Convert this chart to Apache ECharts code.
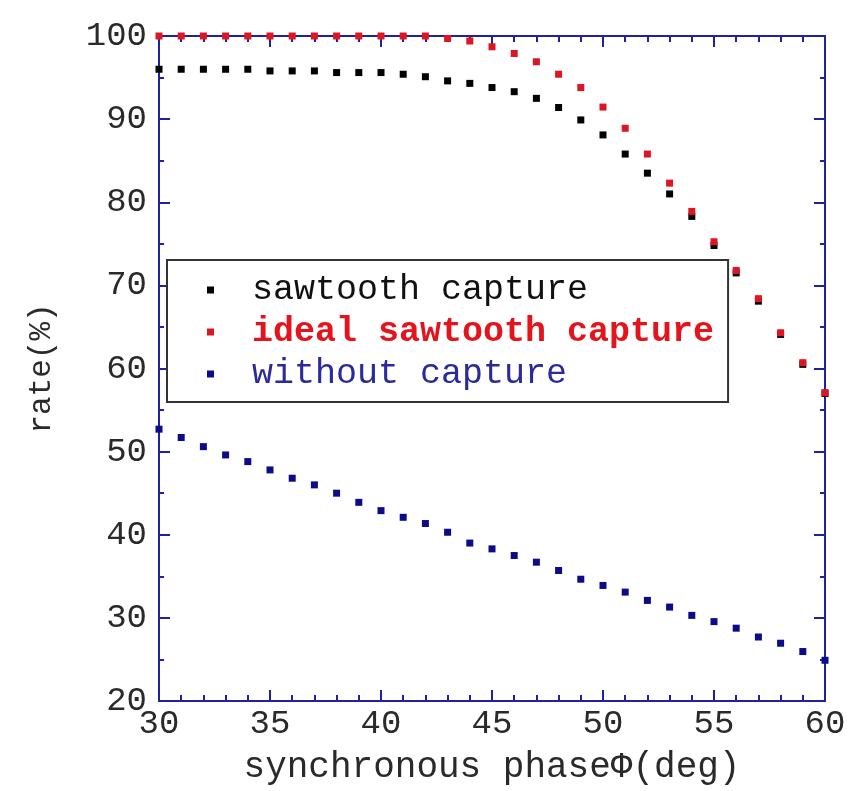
<!DOCTYPE html>
<html>
<head>
<meta charset="utf-8">
<script src="https://cdn.jsdelivr.net/npm/echarts@6/dist/echarts.min.js"></script>
<style>
  html, body { margin: 0; padding: 0; background: #fff; }
  #chart { width: 860px; height: 791px; }
</style>
</head>
<body>
<div id="chart"></div>
<script>
// synchronous phase (deg)
const phase = [30, 31, 32, 33, 34, 35, 36, 37, 38, 39, 40, 41, 42, 43, 44, 45,
               46, 47, 48, 49, 50, 51, 52, 53, 54, 55, 56, 57, 58, 59, 60];

// capture rate (%)
const sawtooth = [96.0, 96.0, 96.0, 96.0, 96.0, 95.8, 95.8, 95.8, 95.6, 95.6, 95.6,
                  95.4, 95.1, 94.6, 94.3, 93.8, 93.3, 92.5, 91.4, 89.9, 88.1, 85.8,
                  83.5, 81.0, 78.3, 74.8, 71.5, 68.1, 64.1, 60.5, 57.0];
const idealSawtooth = [100, 100, 100, 100, 100, 100, 100, 100, 100, 100, 100,
                       100, 100, 99.7, 99.4, 98.7, 97.9, 96.9, 95.4, 93.8, 91.45, 88.9,
                       85.8, 82.3, 78.9, 75.25, 71.8, 68.4, 64.3, 60.7, 57.1];
const withoutCapture = [52.7, 51.7, 50.6, 49.6, 48.8, 47.8, 46.8, 46.0, 45.0, 43.9, 42.9,
                        42.1, 41.35, 40.3, 39.0, 38.3, 37.5, 36.7, 35.7, 34.65, 33.9, 33.1,
                        32.1, 31.3, 30.3, 29.55, 28.76, 27.7, 26.95, 25.95, 24.9];

const seriesNames = ['sawtooth capture', 'ideal sawtooth capture', 'without capture'];
const xTicks = { min: 30, max: 60, step: 5 };
const yTicks = { min: 20, max: 100, step: 10 };

const FONT = '"Liberation Mono", "DejaVu Sans Mono", monospace';
const AXIS_COLOR = '#2121a0';

function pairs(ys) { return phase.map((x, i) => [x, ys[i]]); }

function xAxisDef(pos, showLabel, name) {
  return {
    type: 'value', position: pos,
    min: xTicks.min, max: xTicks.max, interval: xTicks.step,
    axisLine: { show: true, onZero: false, lineStyle: { color: AXIS_COLOR, width: 2 } },
    axisTick: { show: true, inside: true, length: 11, lineStyle: { color: AXIS_COLOR, width: 2 } },
    minorTick: { show: true, splitNumber: 5, length: 6, lineStyle: { color: AXIS_COLOR, width: 2 } },
    splitLine: { show: false },
    axisLabel: { show: showLabel, color: '#2a2a2a', fontFamily: FONT, fontSize: 34, margin: 6 },
    name: name || '', nameLocation: 'middle', nameGap: 48,
    nameTextStyle: { color: '#2a2a2a', fontFamily: FONT, fontSize: 36 }
  };
}
function yAxisDef(pos, showLabel, name) {
  return {
    type: 'value', position: pos,
    min: yTicks.min, max: yTicks.max, interval: yTicks.step,
    axisLine: { show: true, onZero: false, lineStyle: { color: AXIS_COLOR, width: 2 } },
    axisTick: { show: true, inside: true, length: 11, lineStyle: { color: AXIS_COLOR, width: 2 } },
    minorTick: { show: true, splitNumber: 2, length: 5, lineStyle: { color: AXIS_COLOR, width: 2 } },
    splitLine: { show: false },
    axisLabel: { show: showLabel, color: '#2a2a2a', fontFamily: FONT, fontSize: 34, margin: 12 },
    name: name || '', nameLocation: 'middle', nameGap: 102, nameRotate: 90,
    nameTextStyle: { color: '#2a2a2a', fontFamily: FONT, fontSize: 31 }
  };
}

const colors = ['#000000', '#dc1622', '#0b0b8c'];
const textColors = ['#111111', '#e4131c', '#2a2a9c'];

const chart = echarts.init(document.getElementById('chart'), null, { renderer: 'canvas' });
chart.setOption({
  backgroundColor: '#ffffff',
  animation: false,
  grid: { left: 159, right: 35, top: 36, bottom: 90, containLabel: false },
  xAxis: [xAxisDef('bottom', true, 'synchronous phaseΦ(deg)'), xAxisDef('top', false)],
  yAxis: [yAxisDef('left', true, 'rate(%)'), yAxisDef('right', false)],
  legend: {
    orient: 'vertical', left: 167, top: 260,
    padding: [12, 14, 10, 40],
    itemGap: 6, itemWidth: 7, itemHeight: 7,
    backgroundColor: '#ffffff', borderColor: '#333333', borderWidth: 2,
    icon: 'rect',
    formatter: name => '{t|' + name + '}',
    textStyle: {
      fontFamily: FONT, fontSize: 35, lineHeight: 36,
      rich: { t: { padding: [0, 0, 0, 33] } }
    },
    data: seriesNames.map((n, i) => ({
      name: n,
      itemStyle: { color: colors[i], opacity: 1 },
      textStyle: { color: textColors[i], fontWeight: i === 1 ? 'bold' : 'normal' }
    }))
  },
  series: [
    { name: seriesNames[0], type: 'scatter', data: pairs(sawtooth), symbol: 'rect', symbolSize: 7,
      itemStyle: { color: colors[0], opacity: 1 }, clip: false, z: 3 },
    { name: seriesNames[1], type: 'scatter', data: pairs(idealSawtooth), symbol: 'rect', symbolSize: 7,
      itemStyle: { color: colors[1], opacity: 1 }, clip: false, z: 4 },
    { name: seriesNames[2], type: 'scatter', data: pairs(withoutCapture), symbol: 'rect', symbolSize: 7,
      itemStyle: { color: colors[2], opacity: 1 }, clip: false, z: 3 }
  ]
});
</script>
</body>
</html>
